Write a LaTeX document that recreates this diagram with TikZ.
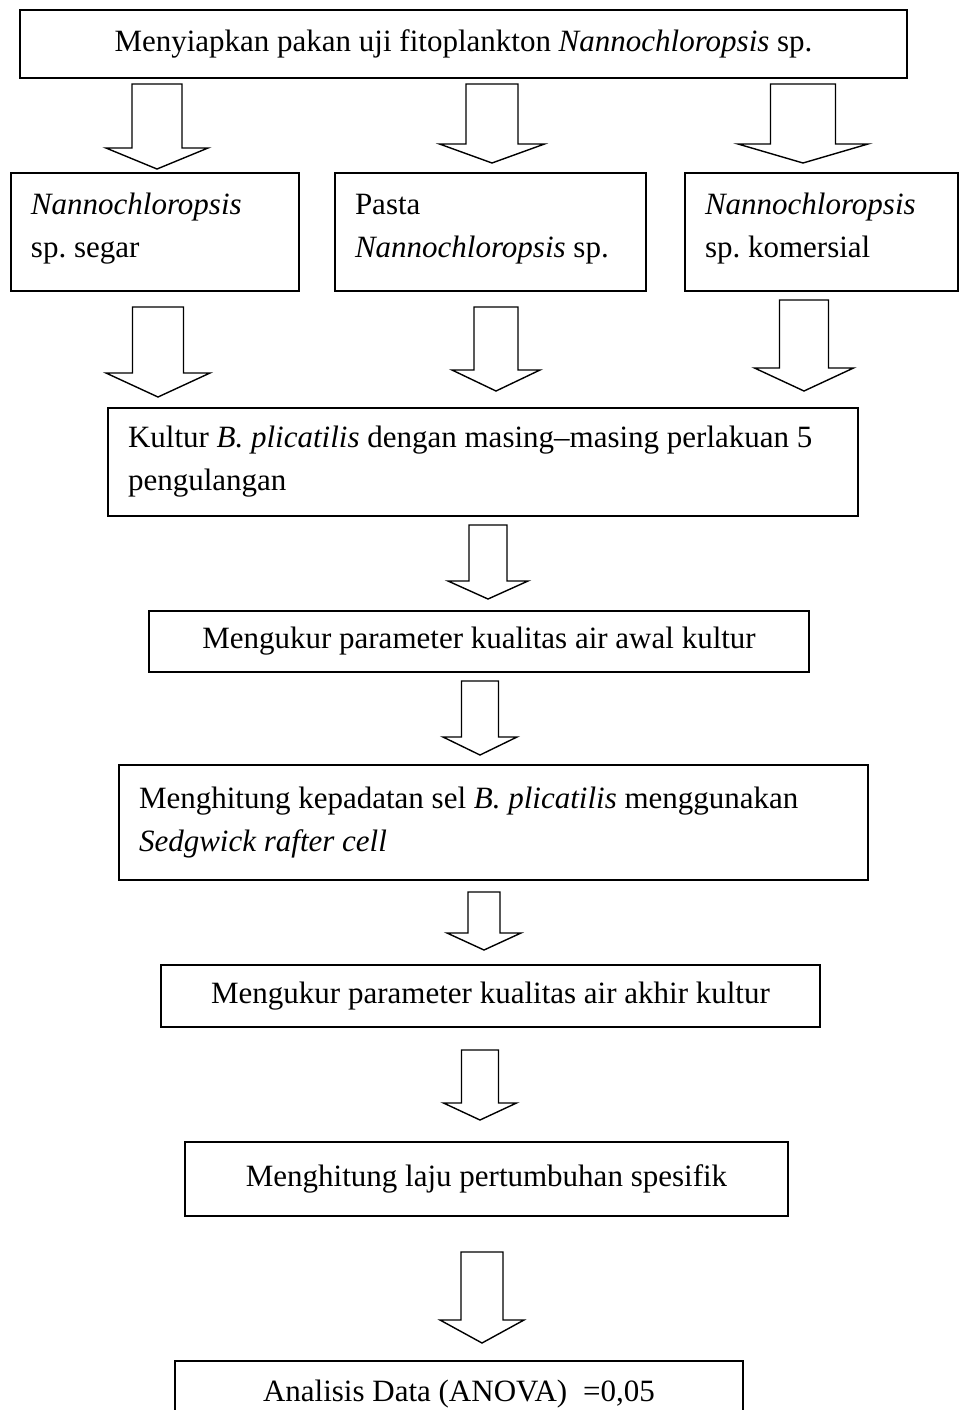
\documentclass[tikz,border=0pt]{standalone}
\usepackage{fontspec}
\setmainfont{Liberation Serif}

% hollow block arrow: centre x, top, head base, tip, shaft half width, head half width
\newcommand{\flowarrow}[6]{%
  \draw[flow] (#1-#5,#2) -- (#1+#5,#2) -- (#1+#5,#3) -- (#1+#6,#3) -- (#1,#4) -- (#1-#6,#3) -- (#1-#5,#3) -- cycle;}

\begin{document}
\frenchspacing
\begin{tikzpicture}[
    x=0.5pt, y=-0.5pt,
    box/.style={draw, rectangle, line width=0.8pt, inner xsep=10pt, inner ysep=0pt, align=center, font=\fontsize{15.5}{21.5}\selectfont},
    textbox/.style={box, align=flush left, text width=#1},
    flow/.style={draw, line width=0.7pt, line join=miter, fill=white}
  ]
    \useasboundingbox (0,0) rectangle (959,1410);

    % Nodes
    \node[box, minimum width=443.5pt, minimum height=34pt] (prep) at (463.5,44) {Menyiapkan pakan uji fitoplankton \textit{Nannochloropsis} sp.};

    \node[textbox=124pt, minimum height=59pt] (fresh) at (155,232) {\textit{Nannochloropsis}\\sp. segar\vspace{3pt}};
    \node[textbox=135.5pt, minimum height=59pt] (paste) at (490.5,232) {Pasta\\\textit{Nannochloropsis} sp.\vspace{3pt}};
    \node[textbox=116.5pt, minimum height=59pt] (comm) at (821.5,232) {\textit{Nannochloropsis}\\sp. komersial\vspace{3pt}};

    \node[textbox=355pt, minimum height=54pt] (culture) at (483,462) {Kultur \textit{B. plicatilis} dengan masing--masing perlakuan 5\\pengulangan};
    \node[box, minimum width=330pt, minimum height=30.5pt] (wqstart) at (479,641.5) {Mengukur parameter kualitas air awal kultur};
    \node[textbox=354.5pt, minimum height=57.5pt] (density) at (493.5,822.5) {Menghitung kepadatan sel \textit{B. plicatilis} menggunakan\\\textit{Sedgwick rafter cell}};
    \node[box, minimum width=329.5pt, minimum height=31pt] (wqend) at (490.5,996) {Mengukur parameter kualitas air akhir kultur};
    \node[box, minimum width=301.5pt, minimum height=37pt] (growth) at (486.5,1179) {Menghitung laju pertumbuhan spesifik};
    \node[box, anchor=north, minimum width=284pt, minimum height=33pt] (anova) at (459,1360) {Analisis Data (ANOVA)\hspace{8pt}=0,05};

    % Connections
    \flowarrow{157}{84}{148}{169}{25}{51}
    \flowarrow{492}{84}{144}{163}{26}{52.5}
    \flowarrow{803}{84}{144}{163}{32.5}{65}

    \flowarrow{158}{307}{373}{397}{25.5}{52}
    \flowarrow{496}{307}{370}{391}{22}{44}
    \flowarrow{804}{300}{368}{391}{24.5}{49.5}

    \flowarrow{488}{525}{581}{599}{19}{40}
    \flowarrow{480}{681}{737}{755}{18.5}{37}
    \flowarrow{484}{892}{933}{950}{16}{37}
    \flowarrow{480}{1050}{1103}{1120}{18.5}{36.5}
    \flowarrow{482}{1252}{1320}{1343}{21}{42}

  \end{tikzpicture}
\end{document}
